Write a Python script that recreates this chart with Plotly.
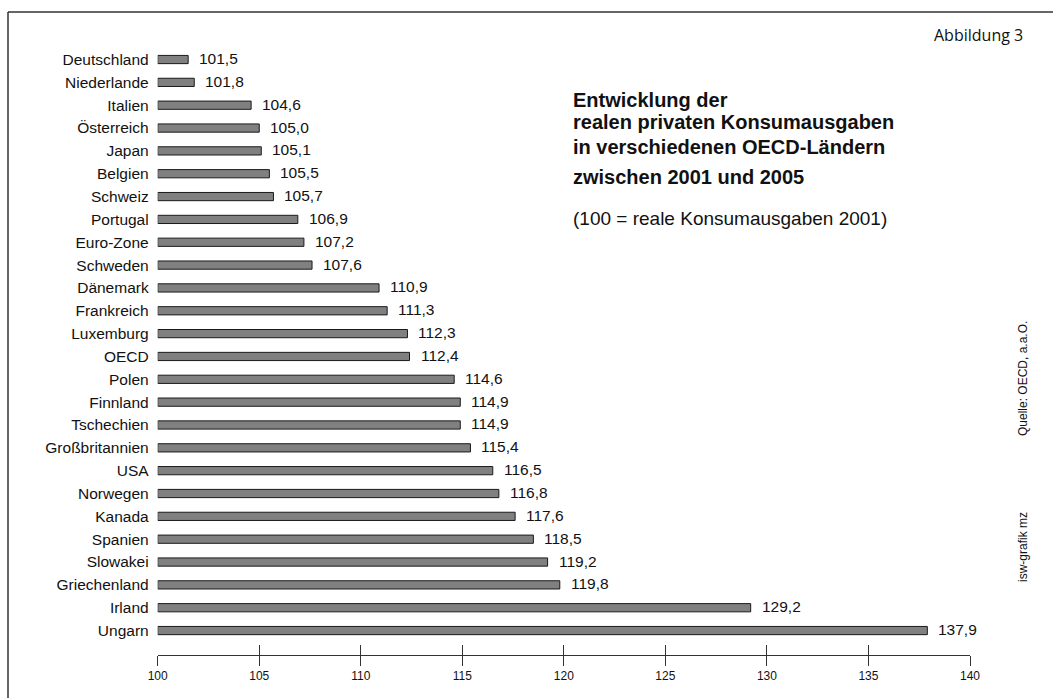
import plotly.graph_objects as go

countries = ["Deutschland", "Niederlande", "Italien", "Österreich", "Japan", "Belgien",
             "Schweiz", "Portugal", "Euro-Zone", "Schweden", "Dänemark", "Frankreich",
             "Luxemburg", "OECD", "Polen", "Finnland", "Tschechien", "Großbritannien",
             "USA", "Norwegen", "Kanada", "Spanien", "Slowakei", "Griechenland",
             "Irland", "Ungarn"]
values = [101.5, 101.8, 104.6, 105.0, 105.1, 105.5, 105.7, 106.9, 107.2, 107.6,
          110.9, 111.3, 112.3, 112.4, 114.6, 114.9, 114.9, 115.4, 116.5, 116.8,
          117.6, 118.5, 119.2, 119.8, 129.2, 137.9]
x_ticks = [100, 105, 110, 115, 120, 125, 130, 135, 140]

W, H = 1053, 698
FONT = "Liberation Sans, Arial, sans-serif"

base = 100
fig = go.Figure()
fig.add_trace(go.Bar(
    y=countries,
    x=[v - base for v in values],
    base=base,
    orientation="h",
    marker=dict(color="#808080", line=dict(color="#1a1a1a", width=1)),
    width=0.36,
    hoverinfo="skip",
))
# invisible helper trace for the overlaid axis carrying inner tick marks
fig.add_trace(go.Scatter(x=[100, 140], y=[countries[0], countries[0]], xaxis="x2",
                         mode="markers", marker=dict(opacity=0), hoverinfo="skip",
                         showlegend=False))

for c, v in zip(countries, values):
    fig.add_annotation(x=v, y=c, text=f"{v:.1f}".replace(".", ","), showarrow=False,
                       xanchor="left", xshift=9, yshift=1,
                       font=dict(family=FONT, size=15.5, color="#111"))

xdom = [157.7 / W, 970.0 / W]
ydom = [1 - 655.0 / H, 1 - 48.1 / H]

fig.update_layout(
    width=W, height=H,
    margin=dict(l=0, r=0, t=0, b=0, autoexpand=False),
    paper_bgcolor="white", plot_bgcolor="white",
    showlegend=False,
    font=dict(family=FONT, color="#111"),
    xaxis=dict(domain=xdom, range=[100, 140], tickvals=x_ticks,
               ticktext=[str(t) for t in x_ticks], showgrid=False, zeroline=False,
               showline=True, linecolor="#333", linewidth=1, automargin=False,
               ticks="outside", ticklen=10, tickcolor="#333", tickwidth=1,
               tickfont=dict(family=FONT, size=12, color="#111")),
    xaxis2=dict(domain=xdom, range=[100, 140], overlaying="x", anchor="y",
                side="bottom", tickvals=x_ticks, showticklabels=False, automargin=False,
                showgrid=False, zeroline=False, ticks="inside", ticklen=10,
                tickcolor="#333", tickwidth=1),
    yaxis=dict(domain=ydom, range=[26.07, -0.5], type="category",
               categoryorder="array", categoryarray=countries, automargin=False,
               showgrid=False, zeroline=False, showline=False, ticks="",
               ticklabelstandoff=8,
               tickfont=dict(family=FONT, size=15.5, color="#111")),
)

# frame lines
fig.add_shape(type="line", xref="paper", yref="paper", x0=8 / W, x1=1, y0=1 - 12 / H, y1=1 - 12 / H,
              line=dict(color="#333", width=1.5))
fig.add_shape(type="line", xref="paper", yref="paper", x0=8 / W, x1=8 / W, y0=0, y1=1 - 12 / H,
              line=dict(color="#333", width=1.5))

fig.add_annotation(xref="paper", yref="paper", x=1025 / W, y=1 - 35 / H, xanchor="right",
                   yanchor="middle", showarrow=False, text="Abbildung 3",
                   font=dict(family="Open Sans, sans-serif", size=16, color="#111"))

title_lines = [("Entwicklung der", 100), ("realen privaten Konsumausgaben", 122),
               ("in verschiedenen OECD-Ländern", 147), ("zwischen 2001 und 2005", 177)]
for t, yy in title_lines:
    fig.add_annotation(xref="paper", yref="paper", x=571 / W, y=1 - yy / H, xanchor="left",
                       yanchor="middle", showarrow=False, text=f"<b>{t}</b>",
                       font=dict(family=FONT, size=20, color="#111"))
fig.add_annotation(xref="paper", yref="paper", x=571 / W, y=1 - 219 / H, xanchor="left",
                   yanchor="middle", showarrow=False, text="(100 = reale Konsumausgaben 2001)",
                   font=dict(family=FONT, size=19, color="#111"))

fig.add_annotation(xref="paper", yref="paper", x=1023 / W, y=1 - 379 / H, xanchor="center",
                   yanchor="middle", showarrow=False, text="Quelle: OECD, a.a.O.", textangle=-90,
                   font=dict(family=FONT, size=12, color="#111"))
fig.add_annotation(xref="paper", yref="paper", x=1023 / W, y=1 - 547 / H, xanchor="center",
                   yanchor="middle", showarrow=False, text="isw-grafik mz", textangle=-90,
                   font=dict(family=FONT, size=12, color="#111"))

fig.write_html("out.html", config={"displayModeBar": False},
               post_script="document.body.style.margin='0';")
